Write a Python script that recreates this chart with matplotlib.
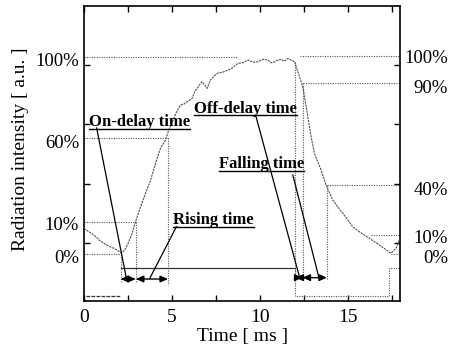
import matplotlib
matplotlib.use("Agg")
import matplotlib.pyplot as plt
from matplotlib.ticker import MultipleLocator, NullFormatter

plt.rcParams["font.family"] = ["Liberation Serif", "DejaVu Serif"]

# ── Measured trace (time in ms, intensity in % of full scale) ────────────────
time_ms = [0.0, 0.3, 0.57, 0.91, 1.14, 1.48, 1.70, 1.95, 2.12, 2.25, 2.37, 2.55,
           2.74, 2.93, 3.22, 3.50, 3.79, 4.07, 4.35, 4.64, 4.82, 5.11, 5.30, 5.49,
           5.70, 5.86, 6.15, 6.30, 6.43, 6.71, 6.85, 7.00, 7.19, 7.40, 7.57, 7.95,
           8.20, 8.42, 8.76, 9.05, 9.32, 9.60, 9.89, 10.2, 10.46, 10.65, 10.84,
           11.05, 11.22, 11.40, 11.59, 11.80, 11.97, 12.07, 12.26, 12.45, 12.64,
           12.92, 13.11, 13.49, 13.77, 14.15, 14.72, 15.28, 15.66, 16.23, 16.80,
           17.46, 17.75, 17.93]
intensity = [13.0, 11.2, 9.6, 6.8, 5.4, 3.7, 2.9, 1.6, 0.5, 1.4, 2.9, 6.2,
             10.5, 16.4, 24.0, 30.8, 37.6, 46.0, 53.7, 57.9, 62.9, 68.9, 72.8, 75.6,
             76.2, 77.3, 79.0, 82.5, 84.1, 87.5, 86.0, 84.1, 88.3, 90.3, 91.7, 92.5,
             93.4, 94.3, 96.8, 97.2, 98.5, 97.4, 97.6, 98.9, 98.5, 97.1, 97.6,
             98.6, 98.8, 97.9, 99.3, 98.4, 97.6, 95.1, 90.0, 84.9, 74.8,
             59.5, 51.1, 42.6, 35.0, 27.4, 20.7, 13.9, 11.3, 8.0, 4.6,
             0.4, 2.9, 7.1]

# drive pulse (lower trace)
pulse_t = [0.1, 2.08, 2.08, 12.03, 12.03, 17.37, 17.37, 18.0]
pulse_lv = [-21.3, -21.3, -7.0, -7.0, -21.3, -21.3, -7.0, -7.0]

# reference levels, left side (turn-on)
left_levels = [100.0, 58.7, 16.4, 0.0]
left_labels = ["100%", "60%", "10%", "0%"]
left_ends = [8.7, 4.78, 2.95, 2.08]
# reference levels, right side (turn-off)
right_levels = [100.5, 86.6, 35.0, 9.6, 0.0]
right_labels = ["100%", "90%", "40%", "10%", "0%"]
right_starts = [12.26, 12.43, 13.82, 16.33, 17.46]

# event times
t_on, t_10, t_60 = 2.08, 2.95, 4.78
t_off, t_90, t_40 = 12.03, 12.43, 13.82

C_REF = "#555555"
C_SIG = "#505050"

fig = plt.figure(figsize=(4.54, 3.58), dpi=100, facecolor="white")
ax = fig.add_axes([0.185, 0.159, 0.697, 0.824])
ax.set_xlim(0, 18.0)
ax.set_ylim(-23.9, 125.9)

dot = (0, (1, 1.2))

# dotted level lines
for lv, xe in zip(left_levels, left_ends):
    ax.plot([0, xe], [lv, lv], color=C_REF, lw=0.8, ls=dot, zorder=2)
for lv, xs in zip(right_levels, right_starts):
    ax.plot([xs, 18.0], [lv, lv], color=C_REF, lw=0.8, ls=dot, zorder=2)

# dotted drop lines
drops = [(t_on, 0.0, -14.0), (t_10, 16.4, -14.0), (t_60, 58.7, -15.7),
         (t_off, 97.5, -12.5), (t_90, 86.6, -12.5), (t_40, 35.0, -12.5)]
for x, y0, y1 in drops:
    ax.plot([x, x], [y0, y1], color=C_REF, lw=0.8, ls=dot, zorder=2)

# signal
ax.plot(time_ms, intensity, color=C_SIG, lw=0.8, ls=(0, (2, 0.8)), zorder=3)

# drive pulse
ax.plot(pulse_t[3:], pulse_lv[3:], color=C_REF, lw=0.8, ls=dot, zorder=2)
ax.plot(pulse_t[:2], pulse_lv[:2], color="#333333", lw=0.9, ls=(0, (3, 1)), zorder=2)
ax.plot(pulse_t[2:4], pulse_lv[2:4], color="#333333", lw=0.9, zorder=2)

# double arrows
arrows = [(t_on, t_10, -12.7), (t_10, t_60, -12.7), (t_off, t_90, -12.0), (t_90, t_40, -12.0)]
for x0, x1, y in arrows:
    ax.annotate("", xy=(x1, y), xytext=(x0, y),
                arrowprops={"arrowstyle": "<|-|>,head_length=0.45,head_width=0.2",
                            "color": "black", "lw": 1.0, "shrinkA": 0, "shrinkB": 0},
                zorder=5)

# annotation labels (bold, underlined) with leader lines
notes = [
    ("On-delay time", 0.28, 65.0, "left", (0.72, 64.0), (2.42, -12.7)),
    ("Off-delay time", 6.24, 71.7, "left", (9.76, 70.6), (12.26, -11.7)),
    ("Falling time", 12.54, 43.7, "right", (11.88, 40.1), (13.35, -11.5)),
    ("Rising time", 5.07, 15.1, "left", (5.26, 13.9), (3.75, -12.2)),
]
texts = []
for t, x, y, ha, p0, p1 in notes:
    txt = ax.text(x, y, t, fontsize=12, fontweight="bold", ha=ha, va="baseline", zorder=6)
    texts.append((txt, y))
    ax.plot([p0[0], p1[0]], [p0[1], p1[1]], color="black", lw=0.9, zorder=5)

fig.canvas.draw()
inv = ax.transData.inverted()
for txt, y in texts:
    bb = txt.get_window_extent()
    xa = inv.transform((bb.x0, 0))[0]
    xb = inv.transform((bb.x1, 0))[0]
    ax.plot([xa, xb], [y - 1.3, y - 1.3], color="black", lw=1.0, zorder=6)

# percent labels
for lab, yy in zip(left_labels, [97.6, 56.2, 14.7, -2.2]):
    ax.text(-0.27, yy, lab, fontsize=13.5, ha="right", va="center", clip_on=False)
for lab, yy in zip(right_labels, [99.3, 84.1, 32.5, 8.0, -2.2]):
    ax.text(20.72, yy, lab, fontsize=13.5, ha="right", va="center", clip_on=False)

# axes styling
for s in ax.spines.values():
    s.set_linewidth(1.2)
ax.xaxis.set_major_locator(MultipleLocator(5))
ax.xaxis.set_minor_locator(MultipleLocator(2.5))
ax.set_yticks([5.5, 35.7, 66.0, 96.2])
ax.yaxis.set_major_formatter(NullFormatter())
ax.tick_params(axis="both", which="both", direction="in", length=4, width=1.0,
               top=True, right=True)
ax.tick_params(axis="x", which="major", labelsize=14, pad=6)
ax.set_xlabel("Time [ ms ]", fontsize=14, labelpad=1)
fig.text(21 / 454, 1 - 149 / 358, "Radiation intensity [ a.u. ]", fontsize=14,
         rotation=90, ha="center", va="center")

fig.savefig("out.png", dpi=100, facecolor="white")
